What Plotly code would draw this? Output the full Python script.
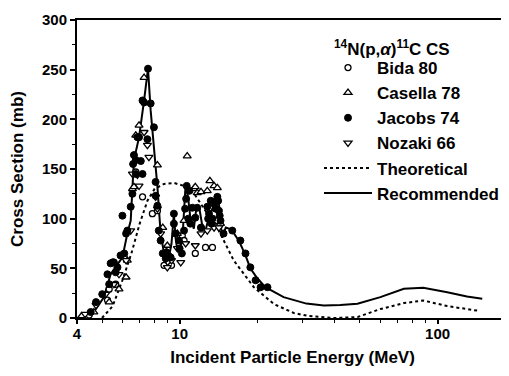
import plotly.graph_objects as go

# Recommended curve
rec_E = [4.0, 4.3, 4.65, 5.09, 5.4, 5.65, 6.0, 6.27, 6.46, 6.65, 6.96, 7.28, 7.54, 7.72, 7.95, 8.2, 8.44, 8.7,
         8.9, 9.1, 9.3, 9.5, 9.65, 9.8, 10.0, 10.24, 10.55, 10.8, 11.0, 11.35, 11.6, 11.9, 12.2, 12.6, 13.0,
         13.4, 13.8, 14.2, 14.6, 15.1, 15.9, 17.1, 18.0, 18.8, 20.0, 21.5, 25.3, 31, 36.2, 42, 48.9, 60, 74,
         88, 109, 130, 149]
rec_y = [0, 2, 6, 21, 44, 51, 61, 85, 98, 159, 182, 219, 251, 209, 172, 132, 85, 65,
         70, 62, 75, 105, 80, 68, 70, 78, 135, 120, 101, 90, 110, 112, 95, 88, 102,
         110, 122, 115, 81, 91, 89, 76, 63, 50, 40, 31, 21, 14.5, 12.6, 13, 14.3, 21, 29.4,
         30.4, 26, 21.6, 19.3]

# Theoretical curve
th_E = [5.0, 5.5, 6.0, 6.5, 7.0, 7.5, 8.0, 8.7, 9.5, 10.4, 11.4, 12.8, 14.0, 16.2, 19.4, 23.2, 27.7, 31.6,
        40, 49, 60, 74, 88, 109, 146]
th_y = [0, 12, 38, 65, 95, 118, 130, 135, 136, 133, 125, 105, 91, 58, 31, 14, 5, 2,
        0, 1, 9, 15, 17.6, 12, 7]

bida_E = [4.46, 5.25, 5.33, 5.65, 6.76, 7.18, 7.84, 8.2, 8.7, 9.1, 9.3, 10.24, 10.4, 11.5, 12.1, 12.6, 13.4, 14.0]
bida_y = [3, 18, 29, 34, 147, 122, 105, 108, 53, 56, 53, 83, 78, 65, 91, 71, 71, 98]

cas_E = [4.17, 4.65, 5.33, 5.82, 6.2, 6.27, 6.56, 6.65, 6.76, 6.96, 7.28, 8.2, 8.6, 8.96, 9.8, 10.4, 10.7,
         11.35, 11.5, 11.7, 12.1, 12.8, 13.1, 13.6, 14.0, 14.4]
cas_y = [2, 6, 16, 29, 41, 58, 130, 132, 184, 194, 242, 154, 91, 73, 85, 98, 163,
         130, 132, 126, 127, 128, 138, 133, 131, 95]

jac_E = [4.52, 4.74, 5.01, 5.25, 5.33, 5.4, 5.5, 5.56, 5.65, 5.74, 5.9, 6.0, 6.1, 6.2, 6.27, 6.46, 6.56, 6.6,
         6.65, 6.76, 6.76, 6.86, 6.96, 7.07, 7.18, 7.18, 7.28, 7.54, 7.5, 7.72, 7.95, 8.07, 8.07, 8.2, 8.3,
         8.44, 8.6, 8.83, 8.9, 9.1, 9.23, 9.5, 9.5, 9.65, 9.94, 10.0, 10.2, 10.4, 10.5, 10.6, 10.65, 10.8,
         10.9, 11.0, 11.2, 11.5, 11.7, 12.1, 12.8, 12.9, 13.0, 13.2, 13.3, 13.4, 13.6, 13.8, 14.0, 14.1,
         14.2, 14.3, 14.4, 14.8, 16.0, 17.2, 18.0, 18.8, 19.7, 20.6, 21.9]
jac_y = [6, 16, 24, 44, 34, 55, 56, 56, 46, 51, 63, 103, 65, 85, 88, 112, 125, 155,
         164, 159, 145, 182, 182, 158, 145, 219, 217, 251, 180, 216, 192, 137, 123, 113, 88,
         78, 65, 60, 66, 62, 61, 105, 95, 85, 78, 70, 65, 88, 110, 120, 133, 100,
         128, 95, 111, 101, 111, 91, 112, 100, 105, 118, 95, 100, 115, 110, 122, 118,
         108, 103, 98, 85, 88, 78, 65, 51, 38, 31, 31]

noz_E = [4.3, 4.74, 5.17, 5.56, 5.82, 6.2, 6.46, 6.56, 6.86, 6.96, 7.28, 7.5, 7.6, 8.07, 8.2, 8.44, 8.96,
         9.3, 9.8, 10.1, 10.55, 11.5, 12.1, 12.8, 13.6, 14.2]
noz_y = [4, 13, 24, 34, 44, 58, 88, 145, 144, 133, 187, 174, 162, 122, 110, 85, 51,
         58, 70, 56, 75, 73, 85, 88, 91, 91]

x_tickvals = [4, 10, 100]
x_ticktext = ["4", "10", "100"]
x_minor = [5, 6, 7, 8, 9, 20, 30, 40, 50, 60, 70, 80, 90]
y_tickvals = [0, 50, 100, 150, 200, 250, 300]

FONT = "Liberation Sans"
# figure pixel geometry (page is offset by the 8px body margin)
L, T, PW, PH = 69, 12, 431, 298


def px(xf):
    return (xf - L) / PW


def py(yf):
    return (T + PH - yf) / PH


fig = go.Figure()
fig.add_trace(go.Scatter(x=th_E, y=th_y, mode="lines", name="Theoretical",
                         line=dict(color="black", width=2, dash="dot"), legendrank=5))
fig.add_trace(go.Scatter(x=rec_E, y=rec_y, mode="lines", name="Recommended",
                         line=dict(color="black", width=2), legendrank=6))
fig.add_trace(go.Scatter(x=bida_E, y=bida_y, mode="markers", name="Bida 80",
                         marker=dict(symbol="circle", size=6, color="white",
                                     line=dict(color="black", width=1.3)), legendrank=1))
fig.add_trace(go.Scatter(x=cas_E, y=cas_y, mode="markers", name="Casella 78",
                         marker=dict(symbol="triangle-up", size=7, color="white",
                                     line=dict(color="black", width=1.3)), legendrank=2))
fig.add_trace(go.Scatter(x=noz_E, y=noz_y, mode="markers", name="Nozaki 66",
                         marker=dict(symbol="triangle-down", size=7, color="white",
                                     line=dict(color="black", width=1.3)), legendrank=4))
fig.add_trace(go.Scatter(x=jac_E, y=jac_y, mode="markers", name="Jacobs 74",
                         marker=dict(symbol="circle", size=7, color="black",
                                     line=dict(color="black", width=1)), legendrank=3))

fig.add_annotation(text="<sup>14</sup>N(p,<i>α</i>)<sup>11</sup>C CS", xref="paper", yref="paper",
                   x=px(324), y=py(40), xanchor="left", yanchor="middle",
                   showarrow=False, font=dict(family=FONT, size=17, color="black", weight="bold"))

fig.update_layout(
    width=501, height=360,
    margin=dict(l=L, r=1, t=T, b=50),
    paper_bgcolor="white", plot_bgcolor="white",
    font=dict(family=FONT, size=17, color="black", weight="bold"),
    showlegend=True,
    legend=dict(x=px(311), y=py(42), xanchor="left", yanchor="top",
                bgcolor="rgba(0,0,0,0)", borderwidth=0, itemwidth=48,
                font=dict(family=FONT, size=17, color="black", weight="bold"),
                tracegroupgap=0),
    xaxis=dict(type="log", range=[0.60206, 2.273], tickmode="array", tickvals=x_tickvals,
               ticktext=x_ticktext, ticks="outside", ticklen=4, tickwidth=1.5, tickcolor="black",
               showline=True, linewidth=2, linecolor="black", mirror=True, showgrid=False, zeroline=False,
               automargin=False, ticklabelstandoff=-3,
               tickfont=dict(family=FONT, size=15, color="black", weight="bold"),
               minor=dict(tickmode="array", tickvals=x_minor, ticks="outside", ticklen=3,
                          tickwidth=1.2, tickcolor="black", showgrid=False),
               title=dict(text="Incident Particle Energy (MeV)", standoff=10,
                          font=dict(family=FONT, size=17, color="black", weight="bold"))),
    yaxis=dict(range=[0, 300], tickmode="array", tickvals=y_tickvals, ticks="outside", ticklen=5,
               tickwidth=1.5, tickcolor="black", showline=True, linewidth=2, linecolor="black",
               showgrid=False, zeroline=False, automargin=False,
               tickfont=dict(family=FONT, size=15, color="black", weight="bold"),
               minor=dict(dtick=25, ticks="outside", ticklen=3, tickwidth=1.2, tickcolor="black",
                          showgrid=False),
               title=dict(text="Cross Section (mb)", standoff=18,
                          font=dict(family=FONT, size=17, color="black", weight="bold"))),
)

fig.write_html("out.html")
